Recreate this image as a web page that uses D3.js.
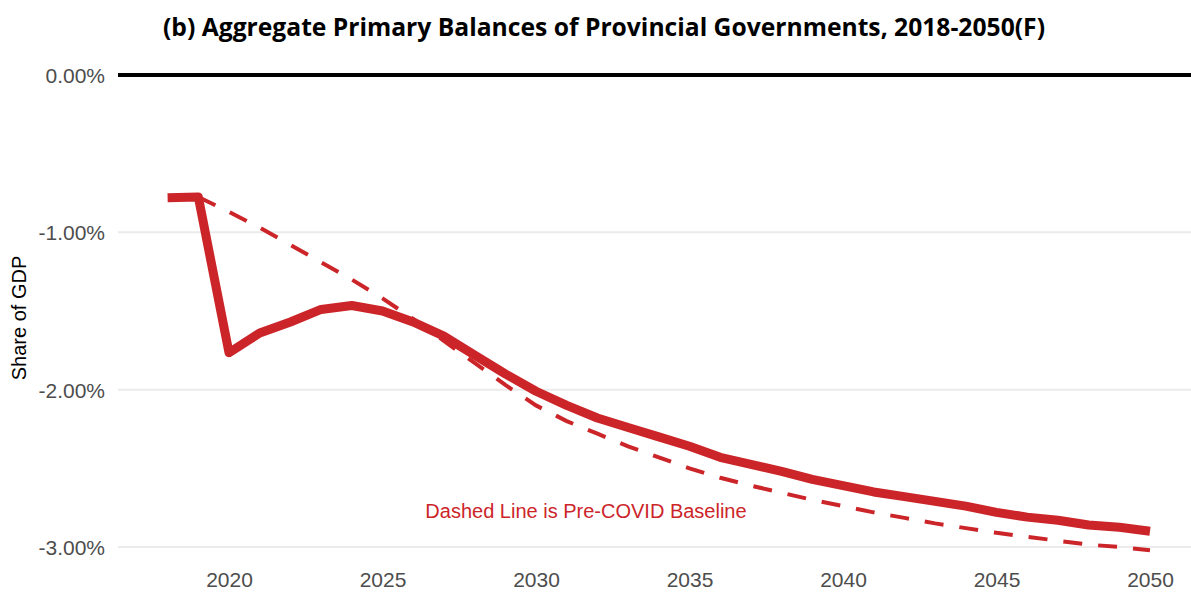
<!DOCTYPE html>
<html>
<head>
<meta charset="utf-8">
<script src="https://cdn.jsdelivr.net/npm/d3@7"></script>
<style>
html,body{margin:0;padding:0;background:#fff;}
svg{display:block;}
</style>
</head>
<body>
<svg id="chart" width="1191" height="607"></svg>
<script>
const years = d3.range(2018, 2051);
const actual = [-0.78,-0.775,-1.765,-1.64,-1.57,-1.49,-1.465,-1.50,-1.57,-1.66,-1.78,-1.90,-2.01,-2.10,-2.18,-2.24,-2.30,-2.36,-2.43,-2.475,-2.52,-2.57,-2.61,-2.65,-2.68,-2.71,-2.74,-2.78,-2.81,-2.83,-2.86,-2.875,-2.90];
const baselineYears = d3.range(2019, 2051);
const baseline = [-0.775,-0.87,-0.97,-1.08,-1.19,-1.30,-1.42,-1.55,-1.69,-1.83,-1.97,-2.10,-2.20,-2.28,-2.36,-2.43,-2.50,-2.56,-2.61,-2.655,-2.70,-2.74,-2.78,-2.815,-2.85,-2.88,-2.91,-2.935,-2.96,-2.985,-3.00,-3.02];
const yTicks = [0,-1,-2,-3];
const xTicks = [2020,2025,2030,2035,2040,2045,2050];
const titleText = "(b) Aggregate Primary Balances of Provincial Governments, 2018-2050(F)";
const annotation = "Dashed Line is Pre-COVID Baseline";
const yLabel = "Share of GDP";

const FONT = "'Liberation Sans', Arial, sans-serif";
const svg = d3.select("#chart");
const x = d3.scaleLinear().domain([2018, 2050]).range([167.6, 1150]);
const y = d3.scaleLinear().domain([0, -3]).range([75, 547]);
const plotLeft = 118, plotRight = 1191;
const red = "#CC2529";

// gridlines
svg.append("g").selectAll("line").data(yTicks.filter(d => d !== 0)).join("line")
  .attr("x1", plotLeft).attr("x2", plotRight)
  .attr("y1", d => y(d)).attr("y2", d => y(d))
  .attr("stroke", "#ebebeb").attr("stroke-width", 2);

// zero line
svg.append("line").attr("x1", plotLeft).attr("x2", plotRight)
  .attr("y1", y(0)).attr("y2", y(0))
  .attr("stroke", "#000").attr("stroke-width", 4);

// y axis labels
const yAxis = d3.axisLeft(y).tickValues(yTicks).tickSize(0).tickPadding(0)
  .tickFormat(d => (d < 0 ? "-" : "") + Math.abs(d).toFixed(2) + "%");
const gy = svg.append("g").attr("transform", "translate(105,0)").call(yAxis);
gy.select(".domain").remove();
gy.selectAll("text").attr("fill", "#4d4d4d").style("font-family", FONT).style("font-size", "21px").attr("dy", "0.35em");

// x axis labels
const xAxis = d3.axisBottom(x).tickValues(xTicks).tickSize(0).tickPadding(0).tickFormat(d3.format("d"));
const gx = svg.append("g").attr("transform", "translate(0,572)").call(xAxis);
gx.select(".domain").remove();
gx.selectAll("text").attr("fill", "#4d4d4d").style("font-family", FONT).style("font-size", "21px").attr("dy", "0.71em");

// dashed baseline
const line = d3.line().x(d => x(d[0])).y(d => y(d[1]));
svg.append("path").datum(baselineYears.map((yr, i) => [yr, baseline[i]]))
  .attr("d", line).attr("fill", "none").attr("stroke", red)
  .attr("stroke-width", 4).attr("stroke-dasharray", "19,16");

// solid actual
svg.append("path").datum(years.map((yr, i) => [yr, actual[i]]))
  .attr("d", line).attr("fill", "none").attr("stroke", red)
  .attr("stroke-width", 9).attr("stroke-linejoin", "round").attr("stroke-linecap", "butt");

// annotation
svg.append("text").attr("x", 586).attr("y", 518).attr("text-anchor", "middle")
  .attr("fill", red).style("font-family", FONT).style("font-size", "20px")
  .text(annotation);

// y label
svg.append("text").attr("transform", "translate(26,318) rotate(-90)").attr("text-anchor", "middle")
  .attr("fill", "#000").style("font-family", FONT).style("font-size", "20px")
  .text(yLabel);

// title
svg.append("text").attr("x", 163).attr("y", 36)
  .attr("textLength", 882).attr("lengthAdjust", "spacingAndGlyphs")
  .style("font-family", "'Liberation Sans Narrow', 'Open Sans', sans-serif").style("font-weight", "bold").style("font-size", "25px")
  .attr("fill", "#000").text(titleText);
</script>
</body>
</html>
